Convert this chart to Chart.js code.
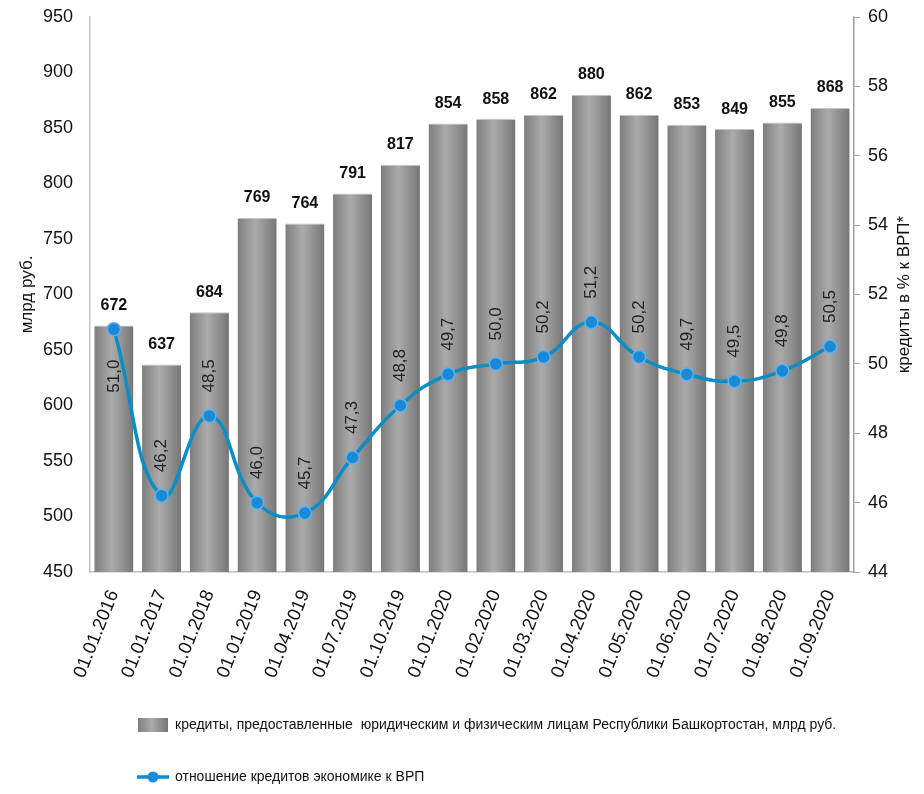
<!DOCTYPE html>
<html>
<head>
<meta charset="utf-8">
<script src="https://cdn.jsdelivr.net/npm/chart.js@4.4.1/dist/chart.umd.min.js"></script>
<style>
  html, body { margin: 0; padding: 0; background: #fff; }
</style>
</head>
<body>
<canvas id="creditChart" width="924" height="794"></canvas>
<script>
// dates of the report
const dates = ['01.01.2016', '01.01.2017', '01.01.2018', '01.01.2019', '01.04.2019', '01.07.2019', '01.10.2019',
  '01.01.2020', '01.02.2020', '01.03.2020', '01.04.2020', '01.05.2020', '01.06.2020', '01.07.2020', '01.08.2020', '01.09.2020'];
// credits, bn rub (left axis)
const credits = [672, 637, 684, 769, 764, 791, 817, 854, 858, 862, 880, 862, 853, 849, 855, 868];
// credits to GRP, % (right axis)
const creditToGrp = [51.0, 46.2, 48.5, 46.0, 45.7, 47.3, 48.8, 49.7, 50.0, 50.2, 51.2, 50.2, 49.7, 49.5, 49.8, 50.5];
// axis ranges: min, max, step
const creditTicks = [450, 950, 50];
const percentTicks = [44, 60, 2];

const font = '"Liberation Sans", Arial, sans-serif';
const lineBlue = '#0b8dc6';

function barGradient(g, x0, x1) {
  const gr = g.createLinearGradient(x0, 0, x1, 0);
  gr.addColorStop(0, '#7e7e7e');
  gr.addColorStop(0.45, '#ababab');
  gr.addColorStop(1, '#767676');
  return gr;
}

// legend icons
function barIcon() {
  const c = document.createElement('canvas');
  c.width = 30; c.height = 14;
  const g = c.getContext('2d');
  g.fillStyle = barGradient(g, 0, 30);
  g.fillRect(0, 0, 30, 14);
  return c;
}
function lineIcon() {
  const c = document.createElement('canvas');
  c.width = 32; c.height = 14;
  const g = c.getContext('2d');
  g.strokeStyle = lineBlue; g.lineWidth = 3.5;
  g.beginPath(); g.moveTo(0, 7); g.lineTo(32, 7); g.stroke();
  g.fillStyle = '#1a8ad6';
  g.beginPath(); g.arc(16, 7, 5.5, 0, Math.PI * 2); g.fill();
  return c;
}
const legendIcons = [barIcon(), lineIcon()];

// numbers over bars and along the line, right axis title
const valueLabels = {
  id: 'valueLabels',
  afterDatasetsDraw(chart) {
    const ctx = chart.ctx;
    ctx.save();
    ctx.textAlign = 'center';
    ctx.font = 'bold 16px ' + font;
    ctx.fillStyle = '#111';
    ctx.textBaseline = 'bottom';
    chart.getDatasetMeta(0).data.forEach((bar, i) => {
      ctx.fillText(String(credits[i]), bar.x, bar.y - 12);
    });
    ctx.font = '17px ' + font;
    ctx.fillStyle = '#222';
    ctx.textBaseline = 'middle';
    chart.getDatasetMeta(1).data.forEach((pt, i) => {
      ctx.save();
      // first label sits inside the bar, the rest above their points
      ctx.translate(pt.x, pt.y + (i === 0 ? 47 : -40));
      ctx.rotate(-Math.PI / 2);
      ctx.fillText(creditToGrp[i].toFixed(1).replace('.', ','), 0, 0);
      ctx.restore();
    });
    ctx.restore();
  },
  afterDraw(chart) {
    const ctx = chart.ctx;
    const area = chart.chartArea;
    ctx.save();
    ctx.font = '17px ' + font;
    ctx.fillStyle = '#111';
    ctx.textAlign = 'center';
    ctx.textBaseline = 'middle';
    ctx.translate(chart.scales.y1.right - 20, (area.top + area.bottom) / 2);
    ctx.rotate(-Math.PI / 2);
    ctx.fillText('кредиты в % к ВРП*', 0, 0);
    ctx.restore();
  }
};

// move the legend to start under the plot, as in the original
const legendShift = {
  id: 'legendShift',
  afterLayout(chart) {
    chart.legend.left = 100;
  }
};

// keep value axes from pushing the plot down
function fitValueAxis(width) {
  return (s) => {
    s.width = width;
    s.paddingTop = 0;
    s.paddingBottom = 0;
  };
}

const ctx = document.getElementById('creditChart').getContext('2d');
const creditChart = new Chart(ctx, {
  type: 'bar',
  data: {
    labels: dates,
    datasets: [{
      label: 'кредиты, предоставленные  юридическим и физическим лицам Республики Башкортостан, млрд руб.',
      data: credits,
      yAxisID: 'y',
      order: 2,
      barPercentage: 0.82,
      categoryPercentage: 1,
      backgroundColor: (c) => {
        const xs = c.chart.scales.x;
        if (!xs || !xs.width) return '#999';
        const cx = xs.getPixelForValue(c.dataIndex);
        const w = xs.width / dates.length * 0.82;
        if (!Number.isFinite(cx) || !Number.isFinite(w)) return '#999';
        return barGradient(c.chart.ctx, cx - w / 2, cx + w / 2);
      },
      borderColor: '#c4c4c4',
      borderWidth: { top: 1 },
      borderSkipped: 'bottom'
    }, {
      type: 'line',
      label: 'отношение кредитов экономике к ВРП',
      data: creditToGrp,
      yAxisID: 'y1',
      order: 1,
      borderColor: lineBlue,
      borderWidth: 3.5,
      tension: 0.45,
      pointRadius: 6.5,
      pointBackgroundColor: '#1a8ad6',
      pointBorderColor: '#5fb0ee',
      pointBorderWidth: 1.5
    }]
  },
  options: {
    responsive: false,
    animation: false,
    layout: { padding: { top: 17, left: 0, right: 0, bottom: 0 } },
    plugins: {
      tooltip: { enabled: false },
      legend: {
        position: 'bottom',
        align: 'start',
        labels: {
          usePointStyle: true,
          pointStyleWidth: 30,
          boxHeight: 14,
          padding: 38,
          color: '#111',
          font: { family: font, size: 14 },
          sort: (a, b) => a.datasetIndex - b.datasetIndex,
          generateLabels: (chart) => {
            const items = Chart.defaults.plugins.legend.labels.generateLabels(chart);
            items.forEach((it) => { it.pointStyle = legendIcons[it.datasetIndex]; });
            return items;
          }
        }
      }
    },
    scales: {
      x: {
        grid: { display: false, drawTicks: false },
        border: { display: true, color: '#bdbdbd', width: 1.5 },
        ticks: {
          color: '#111',
          font: { family: font, size: 18.5 },
          minRotation: 68,
          maxRotation: 68,
          padding: 15
        },
        afterFit: (s) => { s.height = 108; }
      },
      y: {
        position: 'left',
        min: creditTicks[0],
        max: creditTicks[1],
        grid: { display: false, drawTicks: false },
        border: { display: true, color: '#c4c4c4', width: 1.5 },
        ticks: {
          stepSize: creditTicks[2],
          color: '#111',
          font: { family: font, size: 18 },
          padding: 17
        },
        title: {
          display: true,
          text: 'млрд руб.',
          color: '#111',
          font: { family: font, size: 17 },
          padding: { top: 17, bottom: 0 }
        },
        afterFit: fitValueAxis(90)
      },
      y1: {
        position: 'right',
        min: percentTicks[0],
        max: percentTicks[1],
        grid: { display: true, drawOnChartArea: false, drawTicks: true, tickLength: 6, color: '#a0a0a0' },
        border: { display: true, color: '#a0a0a0', width: 1.5 },
        ticks: {
          stepSize: percentTicks[2],
          color: '#111',
          font: { family: font, size: 18 },
          padding: 8
        },
        afterFit: fitValueAxis(70)
      }
    }
  },
  plugins: [valueLabels, legendShift]
});
</script>
</body>
</html>
